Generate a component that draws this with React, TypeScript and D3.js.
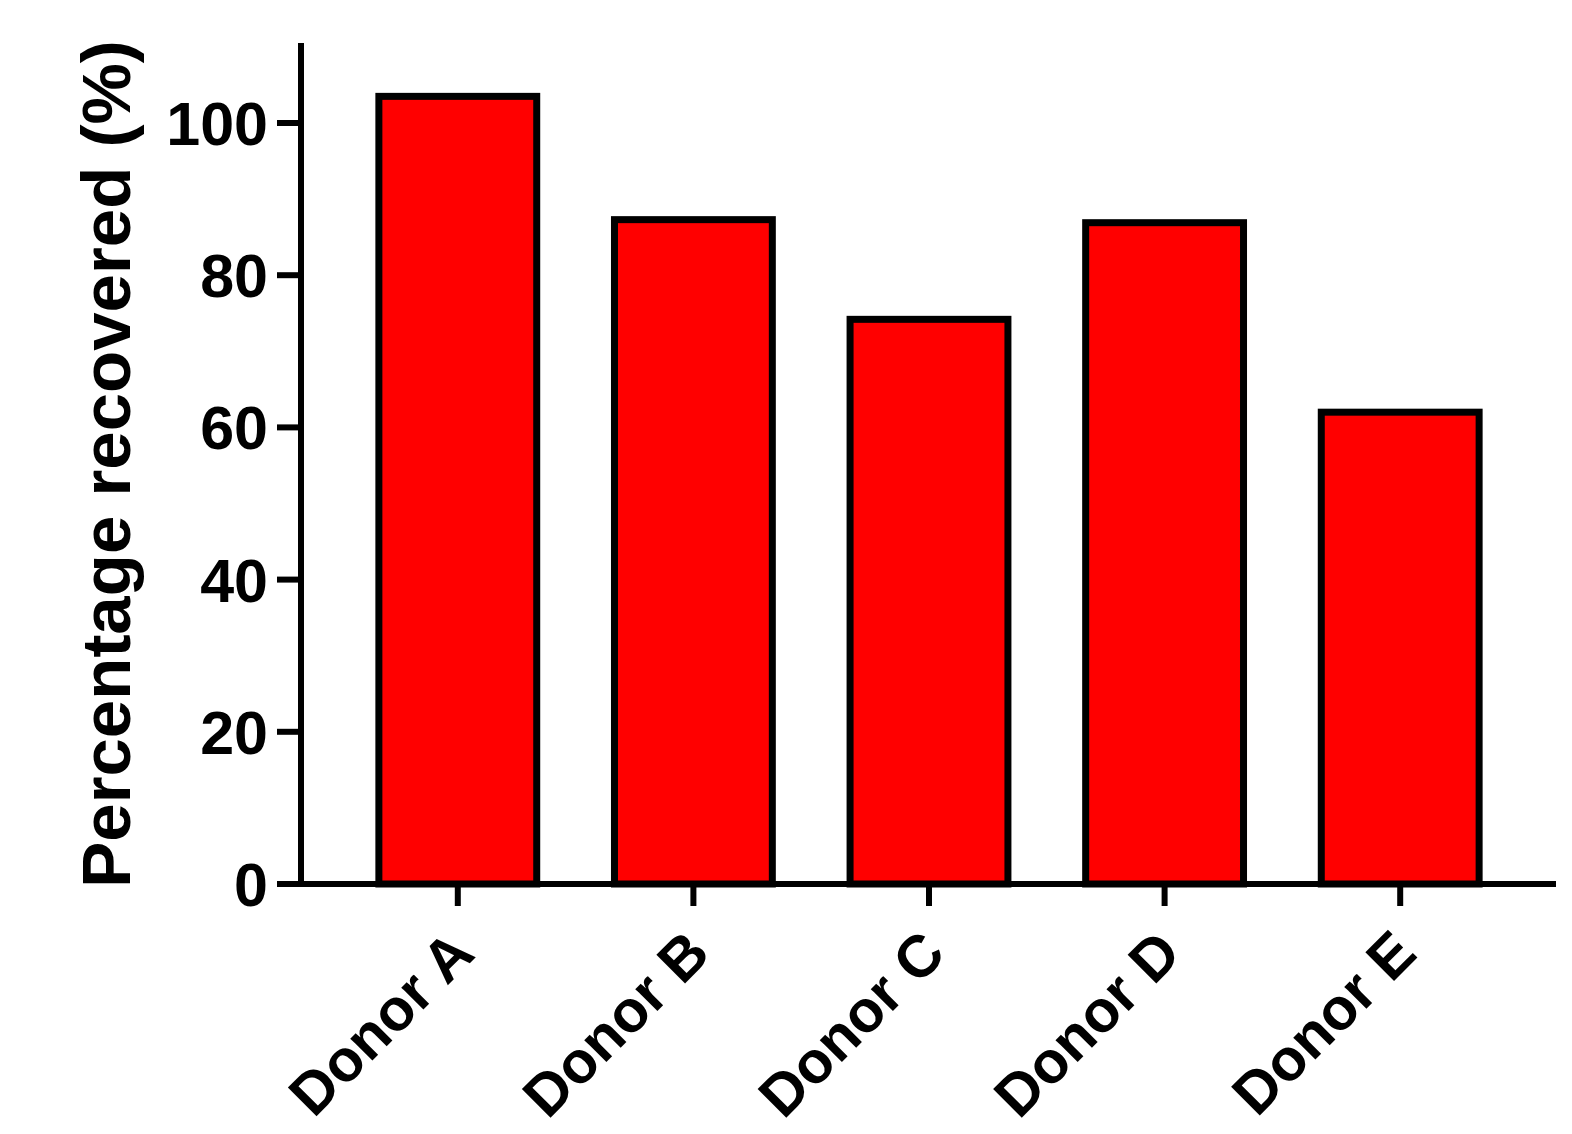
import { useEffect, useRef } from 'react'
import * as d3 from 'd3'

const donors = ['Donor A', 'Donor B', 'Donor C', 'Donor D', 'Donor E']
const recovered = [103.5, 87.3, 74.2, 86.9, 62.0]
const yTicks = [0, 20, 40, 60, 80, 100]

const W = 1572
const H = 1134
const FONT = '"Liberation Sans", Arial, sans-serif'

export default function App() {
    const svgRef = useRef<SVGSVGElement | null>(null)

    useEffect(() => {
        const svg = d3.select(svgRef.current)
        svg.selectAll('*').remove()

        const x = d3.scaleBand<string>()
            .domain(donors)
            .range([340, 1518])
            .padding(0)
        const y = d3.scaleLinear()
            .domain([0, 110.5])
            .range([884, 884 - 7.61 * 110.5])

        const barW = x.step() * 0.67
        const cx = (d: string) => (x(d) as number) + x.bandwidth() / 2

        // bars
        svg.append('g')
            .selectAll('rect')
            .data(donors)
            .enter()
            .append('rect')
            .attr('x', (d: string) => cx(d) - barW / 2)
            .attr('y', (d: string, i: number) => y(recovered[i]))
            .attr('width', barW)
            .attr('height', (d: string, i: number) => y(0) - y(recovered[i]))
            .attr('fill', '#ff0000')
            .attr('stroke', '#000')
            .attr('stroke-width', 7)

        // y axis
        svg.append('line')
            .attr('x1', 301).attr('x2', 301)
            .attr('y1', y(0) + 3).attr('y2', y.range()[1])
            .attr('stroke', '#000').attr('stroke-width', 6)
        const yt = svg.append('g')
        yt.selectAll('line')
            .data(yTicks)
            .enter()
            .append('line')
            .attr('x1', 277).attr('x2', 301)
            .attr('y1', (d: number) => y(d)).attr('y2', (d: number) => y(d))
            .attr('stroke', '#000').attr('stroke-width', 6)
        yt.selectAll('text')
            .data(yTicks)
            .enter()
            .append('text')
            .attr('x', 268)
            .attr('y', (d: number) => y(d))
            .attr('dy', '0.36em')
            .attr('text-anchor', 'end')
            .attr('font-family', FONT)
            .attr('font-weight', 'bold')
            .attr('font-size', 61)
            .text((d: number) => d)

        // x axis
        svg.append('line')
            .attr('x1', 277).attr('x2', 1556)
            .attr('y1', y(0)).attr('y2', y(0))
            .attr('stroke', '#000').attr('stroke-width', 6)
        const xt = svg.append('g')
        xt.selectAll('line')
            .data(donors)
            .enter()
            .append('line')
            .attr('x1', (d: string) => cx(d)).attr('x2', (d: string) => cx(d))
            .attr('y1', y(0)).attr('y2', y(0) + 22)
            .attr('stroke', '#000').attr('stroke-width', 6)
        xt.selectAll('text')
            .data(donors)
            .enter()
            .append('text')
            .attr('transform', (d: string) => `translate(${cx(d) + 19},${y(0) + 72}) rotate(-45)`)
            .attr('text-anchor', 'end')
            .attr('font-family', FONT)
            .attr('font-weight', 'bold')
            .attr('font-size', 59)
            .text((d: string) => d)

        // y axis title
        svg.append('text')
            .attr('transform', 'translate(130,464) rotate(-90)')
            .attr('text-anchor', 'middle')
            .attr('font-family', FONT)
            .attr('font-weight', 'bold')
            .attr('font-size', 69)
            .text('Percentage recovered (%)')
    }, [])

    return (
        <svg
            ref={svgRef}
            width={W}
            height={H}
            style={{ position: 'absolute', left: 0, top: 0, background: '#fff' }}
        />
    )
}
